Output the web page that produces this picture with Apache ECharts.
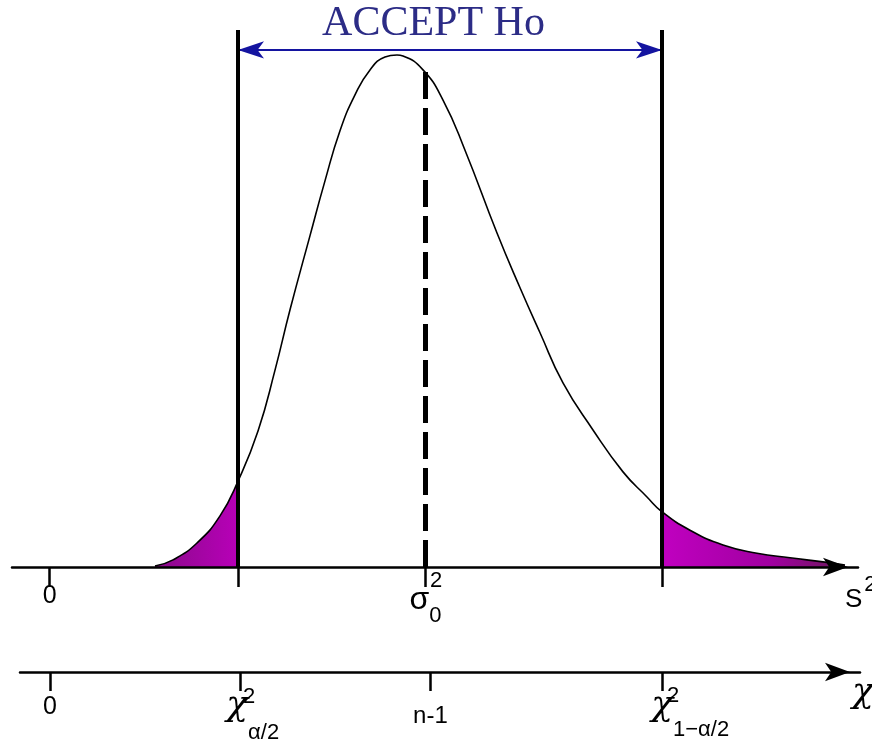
<!DOCTYPE html>
<html>
<head>
<meta charset="utf-8">
<script src="https://cdn.jsdelivr.net/npm/echarts@6/dist/echarts.min.js"></script>
<style>
  html, body { margin: 0; padding: 0; background: #fff; }
  #chart { width: 872px; height: 750px; }
</style>
</head>
<body>
<div id="chart"></div>
<script>
// Sampling distribution of the sample variance, plotted on the S² scale,
// with the two rejection tails of a two-sided test shaded.
const curveX = [2.803, 3.282, 3.920, 4.532, 5.011, 5.543, 5.995, 6.394, 6.926, 7.324,
                7.723, 8.122, 8.521, 8.920, 9.239, 9.399, 9.931, 10.463, 11.048, 11.899,
                12.511, 13.043, 13.654, 14.452, 15.250, 15.888, 16.287, 17.032, 17.910,
                18.814, 19.691, 20.569, 21.154];
const curveY = [0.0002, 0.0014, 0.0047, 0.0100, 0.0168, 0.0266, 0.0385, 0.0503, 0.0648,
                0.0755, 0.0853, 0.0923, 0.0972, 0.0997, 0.1001, 0.0999, 0.0972, 0.0913,
                0.0815, 0.0653, 0.0546, 0.0458, 0.0360, 0.0268, 0.0186, 0.0137, 0.0108,
                0.0072, 0.0043, 0.0027, 0.0018, 0.0010, 0.0004];

const critLow = 5.011;      // S² value of the lower critical point
const critHigh = 16.287;    // S² value of the upper critical point
const sigma0Sq = 10;        // hypothesised variance
const sigma0Height = 0.0976;
const acceptLevel = 0.1011;
const acceptText = 'ACCEPT Ho';

// upper axis (S²) ticks and labels
const sTicks = [0, 5.011, 10, 16.287];
const sLabels = ['{zt|0}', '', '{supS|2}\n{sig|σ}{subS|0}', ''];
// lower axis (χ²) ticks and labels
const chiTicks = [0, 5.06, 10.12, 16.3];
const chiLabels = ['{zb|0}', '{supA|2}\n{chiA|χ}{subA|α/2}', '{nm|n-1}', '{supB|2}\n{chiB|χ}{subB|1−α/2}'];

const pairs = (xs, ys) => xs.map((x, i) => [x, ys[i]]);
const curve = pairs(curveX, curveY);
const lowerTail = curve.filter(p => p[0] <= critLow);
const upperTail = curve.filter(p => p[0] >= critHigh);

const SANS = 'Liberation Sans';
const CHI_FONT = 'DejaVu Serif';
const tok = (size, pad, family, extra) => Object.assign({
  fontSize: size, fontFamily: family || SANS, color: '#000',
  lineHeight: 6, verticalAlign: 'top', padding: pad
}, extra || {});

const chart = echarts.init(document.getElementById('chart'));
chart.setOption({
  animation: false,
  backgroundColor: '#fff',
  grid: [
    { left: 12, width: 846, top: 30, height: 537, outerBoundsMode: 'none' },
    { left: 20, width: 840, top: 662, height: 10, outerBoundsMode: 'none' }
  ],
  xAxis: [
    {
      type: 'value', gridIndex: 0, min: -1, max: 21.5, z: 5,
      splitLine: { show: false },
      axisLine: {
        show: true, onZero: false,
        lineStyle: { color: '#000', width: 2.5 },
        symbol: ['none', 'arrow'], symbolSize: [14, 25], symbolOffset: [0, -10]
      },
      axisTick: {
        show: true, customValues: sTicks, length: 20,
        lineStyle: { color: '#000', width: 2.5 }
      },
      axisLabel: {
        show: true, customValues: [sTicks[0], sTicks[2]], margin: 2,
        formatter: v => sLabels[sTicks.indexOf(v)] || '',
        rich: {
          zt: tok(25, [14.5, 0, 0, 0], SANS, { lineHeight: 30 }),
          supS: tok(22, [1, 0, 0, 21]),
          sig: tok(32, [9, 0, 0, 0], SANS, { lineHeight: 40 }),
          subS: tok(22, [30, 0, 0, 0], SANS, { lineHeight: 40 })
        }
      },
      name: '{s|S}{sp|2}', nameLocation: 'end', nameGap: -13,
      nameTextStyle: {
        rich: {
          s: tok(26, [25, 0, 0, 0], SANS, { lineHeight: 10 }),
          sp: tok(22, [12, 0, 0, 2], SANS, { lineHeight: 10 })
        }
      }
    },
    {
      type: 'value', gridIndex: 1, min: -0.8, max: 21.55, z: 5,
      splitLine: { show: false },
      axisLine: {
        show: true, onZero: false,
        lineStyle: { color: '#000', width: 2.5 },
        symbol: ['none', 'arrow'], symbolSize: [14, 25], symbolOffset: [0, -10]
      },
      axisTick: {
        show: true, customValues: chiTicks, length: 19,
        lineStyle: { color: '#000', width: 2.5 }
      },
      axisLabel: {
        show: true, customValues: chiTicks, margin: 10,
        formatter: v => chiLabels[chiTicks.indexOf(v)] || '',
        rich: {
          zb: tok(25, [12.5, 0, 0, 0], SANS, { lineHeight: 30 }),
          nm: tok(24, [22, 0, 0, 0], SANS, { lineHeight: 30 }),
          supA: tok(22, [4, 0, 0, 18]),
          chiA: tok(36, [0, 0, 0, 25], CHI_FONT, { lineHeight: 40, fontStyle: 'italic' }),
          subA: tok(22, [34, 0, 0, 0], SANS, { lineHeight: 40 }),
          supB: tok(22, [3, 0, 0, 21]),
          chiB: tok(36, [0, 0, 0, 55], CHI_FONT, { lineHeight: 40, fontStyle: 'italic' }),
          subB: tok(22, [31, 0, 0, 0], SANS, { lineHeight: 40 })
        }
      },
      name: '{c|χ}{sp|2}', nameLocation: 'end', nameGap: -8,
      nameTextStyle: {
        rich: {
          c: tok(36, [8, 0, 0, 0], CHI_FONT, { lineHeight: 10, fontStyle: 'italic' }),
          sp: tok(22, [2, 0, 0, 1], SANS, { lineHeight: 10 })
        }
      }
    }
  ],
  yAxis: [
    { type: 'value', gridIndex: 0, min: 0, max: 0.105, show: false },
    { type: 'value', gridIndex: 1, min: 0, max: 1, show: false }
  ],
  series: [
    {
      name: 'lower tail', type: 'line', xAxisIndex: 0, yAxisIndex: 0,
      data: lowerTail, smooth: 0.5, symbol: 'none', z: 2,
      lineStyle: { width: 0 },
      areaStyle: {
        opacity: 1,
        color: new echarts.graphic.LinearGradient(0, 0, 1, 0, [
          { offset: 0, color: '#8a0a8a' }, { offset: 1, color: '#b800b8' }
        ])
      },
      markLine: {
        silent: true, animation: false,
        lineStyle: { color: '#1414a0', width: 2, type: 'solid' },
        label: {
          show: true, position: 'insideMiddleTop', distance: 5,
          formatter: () => acceptText,
          fontFamily: 'Liberation Serif', fontSize: 42, color: '#2c2c86',
          padding: [0, 33, 0, 0]
        },
        data: [[
          { coord: [critLow, acceptLevel], symbol: 'arrow', symbolSize: [13, 26] },
          { coord: [critHigh, acceptLevel], symbol: 'arrow', symbolSize: [13, 26] }
        ]]
      }
    },
    {
      name: 'upper tail', type: 'line', xAxisIndex: 0, yAxisIndex: 0,
      data: upperTail, smooth: 0.5, symbol: 'none', z: 2,
      lineStyle: { width: 0 },
      areaStyle: {
        opacity: 1,
        color: new echarts.graphic.LinearGradient(0, 0, 1, 0, [
          { offset: 0, color: '#c000c0' }, { offset: 0.6, color: '#a000a0' }, { offset: 1, color: '#6a1a5a' }
        ])
      }
    },
    {
      name: 'density', type: 'line', xAxisIndex: 0, yAxisIndex: 0,
      data: curve, smooth: 0.5, symbol: 'none', z: 3,
      lineStyle: { color: '#000', width: 1.6 },
      markLine: {
        silent: true, animation: false, symbol: 'none',
        label: { show: false },
        data: [
          { xAxis: critLow, lineStyle: { color: '#000', width: 4, type: 'solid' } },
          { xAxis: critHigh, lineStyle: { color: '#000', width: 4, type: 'solid' } },
          [
            { coord: [sigma0Sq, 0], lineStyle: { color: '#000', width: 5, type: [27, 9] } },
            { coord: [sigma0Sq, sigma0Height] }
          ]
        ]
      }
    }
  ]
});
</script>
</body>
</html>
